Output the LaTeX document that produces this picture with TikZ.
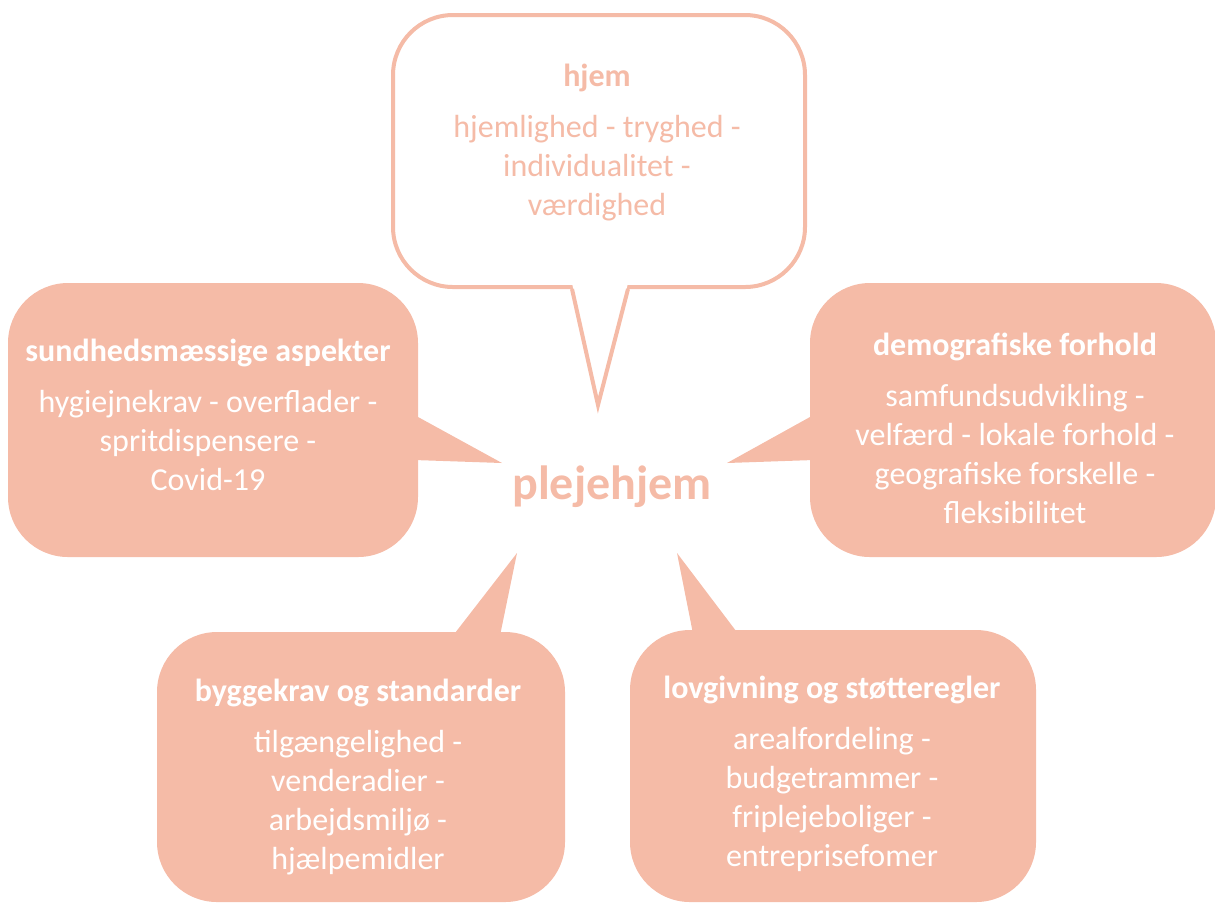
\documentclass[tikz,border=0pt]{standalone}
\usepackage{fontspec}
\setmainfont{Carlito}
\usetikzlibrary{backgrounds}
\definecolor{salmon}{RGB}{245,187,167}

\begin{document}
\begin{tikzpicture}[x=0.5pt,y=-0.5pt,
    box/.style={rectangle,rounded corners=30pt,fill=salmon,inner sep=0pt},
    outlinebox/.style={rectangle,rounded corners=30pt,draw=salmon,line width=2pt,fill=white,inner sep=0pt},
    txt/.style={align=center,font=\fontsize{16}{19.5}\selectfont,text=white},
    tail/.style={fill=salmon}]
    \useasboundingbox (0,0) rectangle (1215,902);

    % centre
    \node[font=\bfseries\fontsize{24}{29}\selectfont,text=salmon] (plejehjem) at (612,487) {plejehjem};
    \coordinate (hjemTip) at (598,405);
    \coordinate (sundTip) at (502,463);
    \coordinate (demoTip) at (727,463);
    \coordinate (byggTip) at (517,553);
    \coordinate (lovTip) at (677,553);

    % boxes
    \node[outlinebox,minimum width=206pt,minimum height=136pt] (hjemBox) at (599,151) {};
    \node[box,minimum width=205pt,minimum height=137pt] (sundBox) at (213,420) {};
    \node[box,minimum width=203pt,minimum height=137pt] (demoBox) at (1013,420) {};
    \node[box,minimum width=204pt,minimum height=135pt] (byggBox) at (361,767) {};
    \node[box,minimum width=203pt,minimum height=136pt] (lovBox) at (833,766) {};

    % tails
    \fill[white] ([xshift=-13.5pt,yshift=3pt]hjemBox.south) -- (hjemTip) -- ([xshift=14.5pt,yshift=3pt]hjemBox.south) -- cycle;
    \draw[salmon,line width=2pt] ([xshift=-13.5pt]hjemBox.south) -- (hjemTip) -- ([xshift=14.5pt]hjemBox.south);
    \begin{scope}[on background layer]
        \fill[tail] ([xshift=-2pt,yshift=2.5pt]sundBox.east) -- (sundTip) -- ([xshift=-2pt,yshift=-20pt]sundBox.east) -- cycle;
        \fill[tail] ([xshift=2pt,yshift=2.5pt]demoBox.west) -- (demoTip) -- ([xshift=2pt,yshift=-20pt]demoBox.west) -- cycle;
        \fill[tail] ([xshift=46pt,yshift=-2pt]byggBox.north) -- (byggTip) -- ([xshift=69.5pt,yshift=-2pt]byggBox.north) -- cycle;
        \fill[tail] ([xshift=-70pt,yshift=-2pt]lovBox.north) -- (lovTip) -- ([xshift=-47.5pt,yshift=-2pt]lovBox.north) -- cycle;
    \end{scope}

    % texts
    \node[txt,text=salmon] (hjemText) at (597,143) {\textbf{hjem}\\[6pt] hjemlighed - tryghed -\\ individualitet -\\ værdighed};
    \node[txt] (sundText) at (208,415) {\textbf{sundhedsmæssige aspekter}\\[6pt] hygiejnekrav - overflader -\\ spritdispensere -\\ Covid-19};
    \node[txt] (demoText) at (1015,428) {\textbf{demografiske forhold}\\[6pt] samfundsudvikling -\\ velfærd - lokale forhold -\\ geografiske forskelle -\\ fleksibilitet};
    \node[txt] (byggText) at (358,777) {\textbf{byggekrav og standarder}\\[6pt] tilgængelighed -\\ venderadier -\\ arbejdsmiljø -\\ hjælpemidler};
    \node[txt] (lovText) at (832,774) {\textbf{lovgivning og støtteregler}\\[6pt] arealfordeling -\\ budgetrammer -\\ friplejeboliger -\\ entreprisefomer};
\end{tikzpicture}
\end{document}
